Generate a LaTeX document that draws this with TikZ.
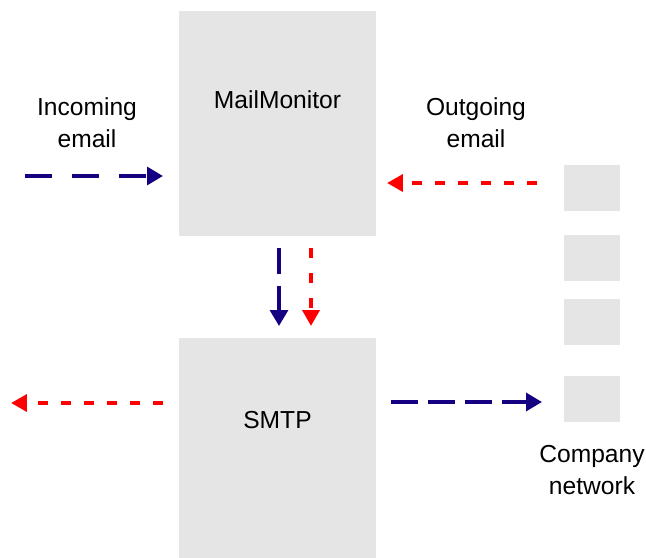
\documentclass[tikz,border=0pt]{standalone}
\usepackage{fontspec}
\setmainfont{Liberation Sans}
\usetikzlibrary{arrows.meta}

\definecolor{boxgray}{RGB}{229,229,229}
\definecolor{mailblue}{RGB}{20,0,128}
\definecolor{mailred}{RGB}{255,0,0}

\tikzset{
  server/.style={fill=boxgray, inner sep=0pt, outer sep=0pt,
    minimum width=3.94cm, font=\fontsize{14}{18}\selectfont},
  pc/.style={fill=boxgray, inner sep=0pt, outer sep=0pt,
    minimum width=1.12cm, minimum height=0.92cm},
  lbl/.style={align=center, font=\fontsize{14}{18}\selectfont},
  inflow/.style={draw=mailblue, line width=2.2pt,
    -{Triangle[length=9pt,width=10pt]}},
  outflow/.style={draw=mailred, line width=2.2pt,
    -{Triangle[length=9pt,width=9.5pt]}}
}

\begin{document}
\begin{tikzpicture}[x=0.02cm, y=-0.02cm]
  \useasboundingbox (0,0) rectangle (646,558);

  \node[server, minimum height=4.5cm] (mailmon) at (277.5,123.5) {};
  \node[lbl] (mailmontxt) at (277.5,100) {MailMonitor};
  \node[server, minimum height=4.4cm] (smtp) at (277.5,448) {};
  \node[lbl] (smtptxt) at (277.5,420) {SMTP};

  % company network machines
  \foreach \y/\nom in {188/pca, 258/pcb, 322/pcc, 399/pcd} {
    \node[pc] (\nom) at (592,\y) {};
  }

  \node[lbl] (incoming) at (87,123) {Incoming\\email};
  \node[lbl] (outgoing) at (476,123) {Outgoing\\email};
  \node[lbl] (company) at (592,470) {Company\\network};

  \coordinate (inA) at (25,176);
  \coordinate (inB) at (163,176);
  \coordinate (outA) at (537,183);
  \coordinate (outB) at (387,183);
  \coordinate (leftA) at (163,403);
  \coordinate (leftB) at (11,403);
  \coordinate (sendA) at (391,402);
  \coordinate (sendB) at (542,402);

  \draw[inflow, dash pattern=on 15.3pt off 11.4pt] (inA) -- (inB);
  \draw[outflow, dash pattern=on 5.7pt off 7.4pt] (outA) -- (outB);

  \draw[inflow, dash pattern=on 14.8pt off 6.8pt] (279,248) -- (279,326);
  \draw[outflow, dash pattern=on 5.7pt off 8.5pt] (311,248) -- (311,326);

  \draw[outflow, dash pattern=on 5.7pt off 7.4pt] (leftA) -- (leftB);
  \draw[inflow, dash pattern=on 15.3pt off 5.7pt] (sendA) -- (sendB);
\end{tikzpicture}
\end{document}
